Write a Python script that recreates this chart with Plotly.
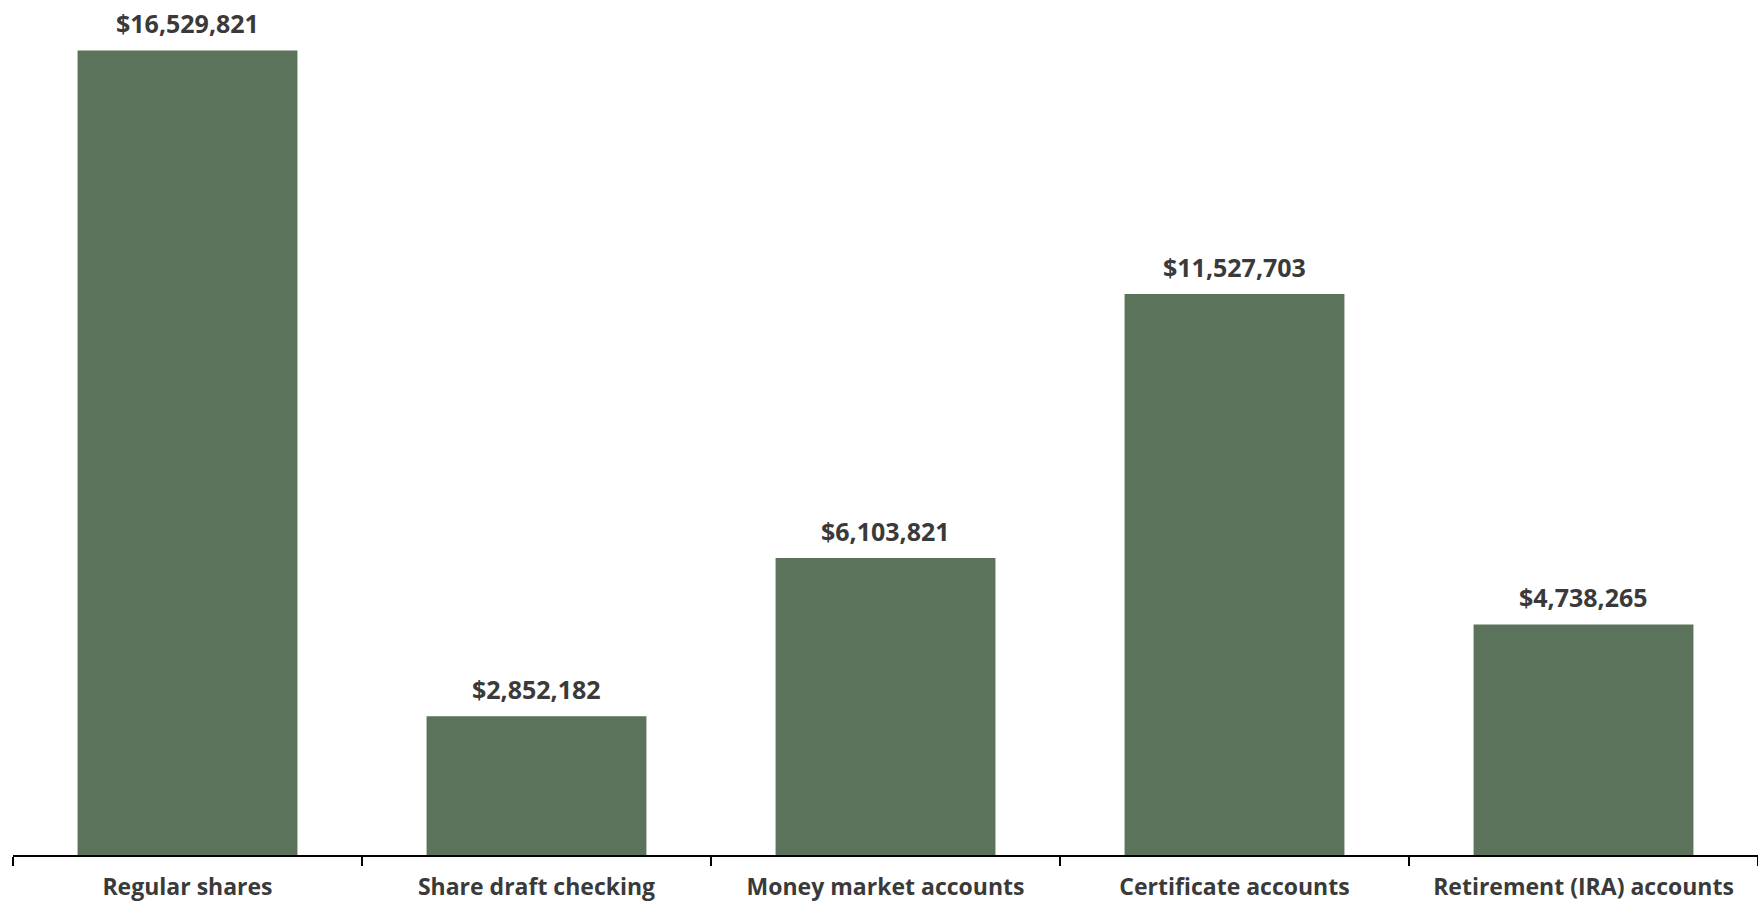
import plotly.graph_objects as go

# Share balances by account type
categories = [
    "Regular shares",
    "Share draft checking",
    "Money market accounts",
    "Certificate accounts",
    "Retirement (IRA) accounts",
]
balances = [16529821, 2852182, 6103821, 11527703, 4738265]

BAR_COLOR = "#5B735A"
TEXT_COLOR = "#3A3A3A"
FONT = "Open Sans"

PLOT_BOTTOM = 46
AXIS_Y = 901 - PLOT_BOTTOM
TOP_BAR_PX = AXIS_Y - 50.5

fig = go.Figure(
    go.Bar(
        x=categories,
        y=balances,
        marker=dict(color=BAR_COLOR, line=dict(width=0)),
        hoverinfo="skip",
    )
)

for cat, val in zip(categories, balances):
    fig.add_annotation(
        x=cat,
        y=val,
        text=f"<b>${val:,.0f}</b>",
        showarrow=False,
        yanchor="bottom",
        yshift=8,
        font=dict(family=FONT, size=25, color=TEXT_COLOR),
    )

fig.update_layout(
    width=1758,
    height=901,
    margin=dict(l=13, r=0, t=0, b=PLOT_BOTTOM),
    paper_bgcolor="white",
    plot_bgcolor="white",
    bargap=0.37,
    showlegend=False,
    font=dict(family=FONT, color=TEXT_COLOR),
)

fig.update_xaxes(
    showline=True,
    linecolor="#000000",
    linewidth=2,
    ticks="outside",
    tickson="boundaries",
    ticklen=9,
    tickwidth=2,
    tickcolor="#000000",
    showgrid=False,
    ticklabelstandoff=10,
    tickfont=dict(family=FONT, size=23, color=TEXT_COLOR),
    tickvals=categories,
    ticktext=[f"<b>{c}</b>" for c in categories],
)

fig.update_yaxes(
    visible=False,
    range=[0, max(balances) * AXIS_Y / TOP_BAR_PX],
    showgrid=False,
    zeroline=False,
)

fig.write_html("out.html", config={"displayModeBar": False})
